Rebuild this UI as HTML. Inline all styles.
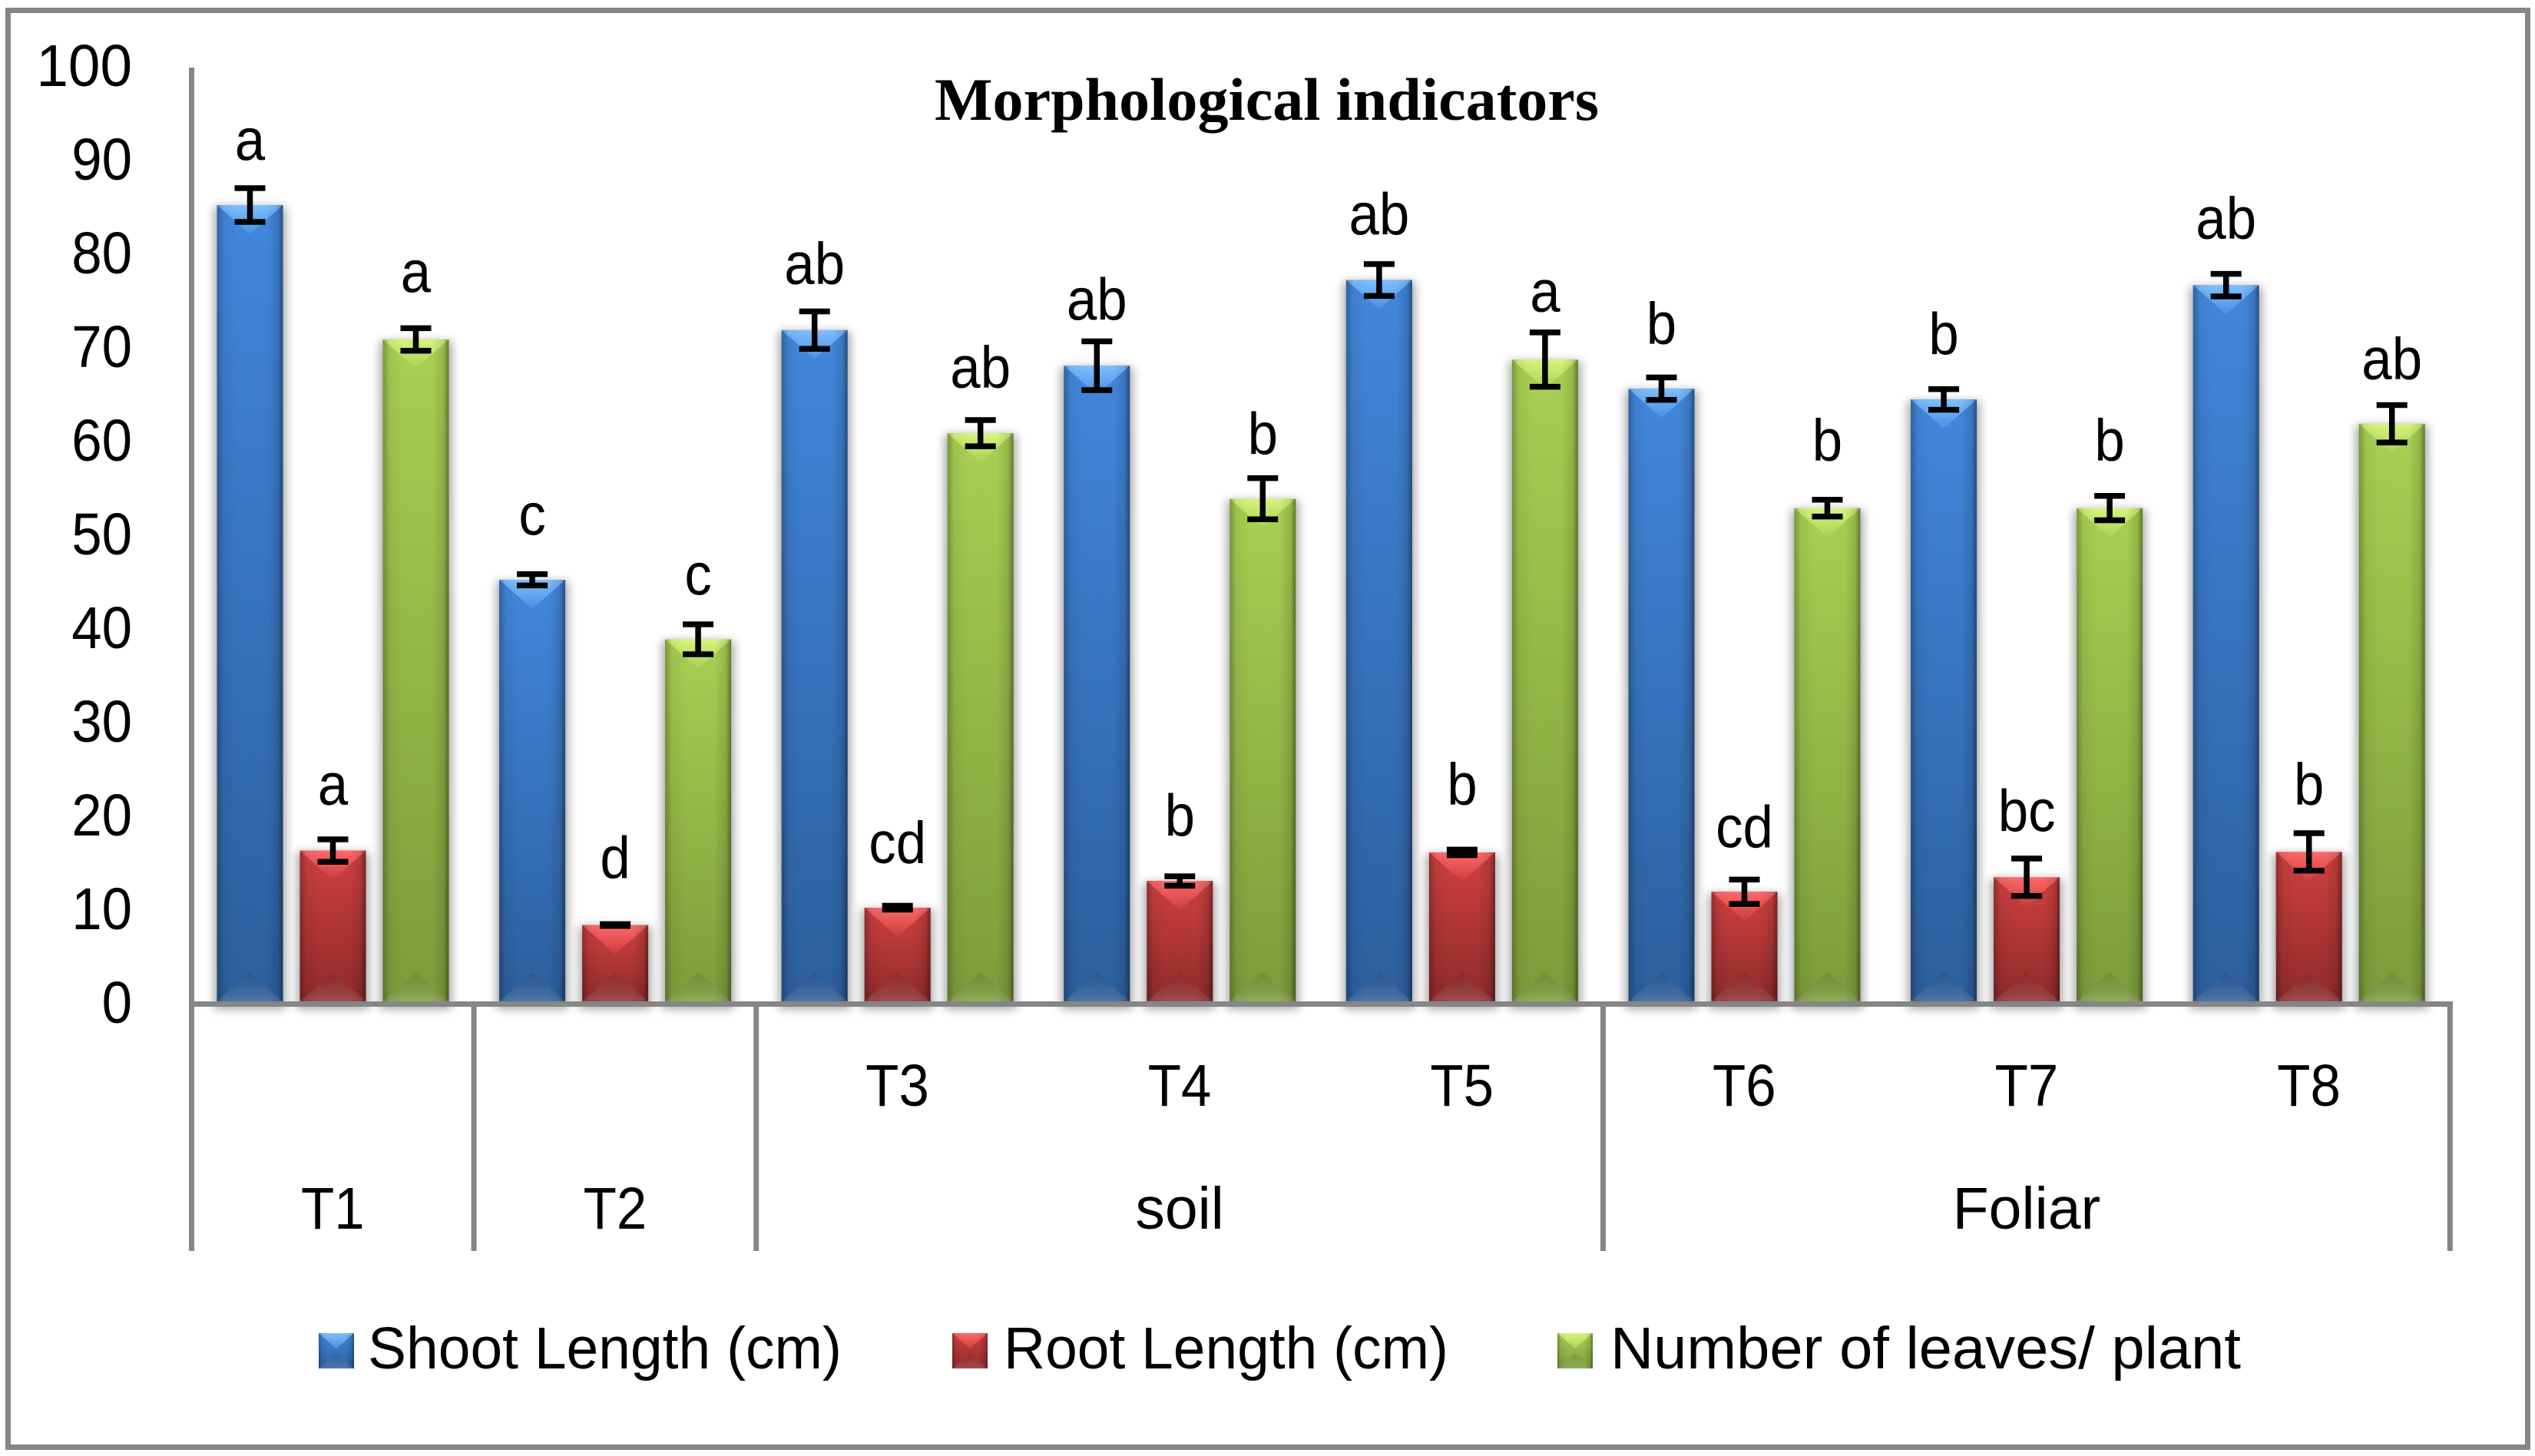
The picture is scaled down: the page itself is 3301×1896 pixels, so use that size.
<!DOCTYPE html>
<html lang="en">
<head>
<meta charset="utf-8">
<title>Morphological indicators</title>
<style>
html,body{margin:0;padding:0;background:#fff;width:3301px;height:1896px;overflow:hidden}
svg{display:block}
text{font-family:"Liberation Sans",sans-serif;fill:#000}
</style>
</head>
<body>
<svg id="chart" xmlns="http://www.w3.org/2000/svg" width="3301" height="1896" viewBox="0 0 3301 1896">
<defs>
  <filter id="soft" x="-40%" y="-20%" width="180%" height="140%"><feGaussianBlur stdDeviation="6"/></filter>
  <linearGradient id="sideShade" x1="0" x2="1" y1="0" y2="0">
    <stop offset="0" stop-color="#000" stop-opacity=".28"/><stop offset=".1" stop-color="#000" stop-opacity=".06"/>
    <stop offset=".3" stop-color="#000" stop-opacity="0"/><stop offset=".75" stop-color="#000" stop-opacity="0"/>
    <stop offset=".92" stop-color="#000" stop-opacity=".12"/><stop offset="1" stop-color="#000" stop-opacity=".42"/>
  </linearGradient>
  <linearGradient id="bottomBevel" x1="0" x2="0" y1="0" y2="1">
    <stop offset="0" stop-color="#000" stop-opacity=".1"/><stop offset="1" stop-color="#fff" stop-opacity=".16"/>
  </linearGradient>
  <linearGradient id="bodyBlue" x1="0" x2="0" y1="0" y2="1"><stop offset="0" stop-color="#4287dc"/><stop offset="1" stop-color="#2c5f9e"/></linearGradient>
  <linearGradient id="bodyRed" x1="0" x2="0" y1="0" y2="1"><stop offset="0" stop-color="#cf4040"/><stop offset="1" stop-color="#8f2b2b"/></linearGradient>
  <linearGradient id="bodyGreen" x1="0" x2="0" y1="0" y2="1"><stop offset="0" stop-color="#a8d052"/><stop offset="1" stop-color="#7c9c3a"/></linearGradient>
  <linearGradient id="topBlue" x1="0" x2="0" y1="0" y2="1"><stop offset="0" stop-color="#7fc0ff"/><stop offset="1" stop-color="#4a8fe2"/></linearGradient>
  <linearGradient id="topRed" x1="0" x2="0" y1="0" y2="1"><stop offset="0" stop-color="#ff6a6a"/><stop offset="1" stop-color="#cc3d3d"/></linearGradient>
  <linearGradient id="topGreen" x1="0" x2="0" y1="0" y2="1"><stop offset="0" stop-color="#d8f57e"/><stop offset="1" stop-color="#a9d054"/></linearGradient>
</defs>

<rect x="0" y="0" width="3301" height="1896" fill="#ffffff"/>
<rect x="10.5" y="13.5" width="3281" height="1871" fill="none" stroke="#868686" stroke-width="7"/>
<text x="1217" y="156" font-size="78" font-weight="700" textLength="865" lengthAdjust="spacingAndGlyphs" style='font-family:"Liberation Serif",serif'>Morphological indicators</text>

<g id="shadows"></g>
<g id="bars"></g>
<g id="axes"></g>
<g id="errors"></g>
<g id="letters"></g>
<g id="ticks"></g>
<g id="cats"></g>
<g id="legend"></g>
</svg>

<script>
// ---- chart data ----
const categories = ['T1','T2','T3','T4','T5','T6','T7','T8'];
const upperLabels = ['', '', 'T3','T4','T5','T6','T7','T8'];
const lowerLabels = ['T1','T2','soil','Foliar'];
const lowerSpans = [[0,1],[1,2],[2,5],[5,8]];
const seriesNames = ['Shoot Length (cm)','Root Length (cm)','Number of leaves/ plant'];
const yTicks = [0,10,20,30,40,50,60,70,80,90,100];

const shootValues = [85, 45, 71.65, 67.85, 77, 65.4, 64.25, 76.45];
const rootValues  = [16.1, 8.15, 10, 12.85, 15.9, 11.7, 13.25, 15.95];
const leafValues  = [70.65, 38.65, 60.65, 53.65, 68.5, 52.65, 52.65, 61.65];

const shootErrors = [1.8, 0.6, 2, 2.6, 1.7, 1.2, 1.1, 1.2];
const rootErrors  = [1.2, 0.1, 0.2, 0.5, 0.3, 1.3, 2, 2];
const leafErrors  = [1.2, 1.6, 1.4, 2.2, 2.9, 0.9, 1.3, 2];

const shootLetters = ['a','c','ab','ab','ab','b','b','ab'];
const rootLetters  = ['a','d','cd','b','b','cd','bc','b'];
const leafLetters  = ['a','c','ab','b','a','b','b','ab'];

// height (in axis units) at which each letter sits
const shootLetterLevels = [89.8, 49.8, 76.55, 72.75, 81.85, 70.15, 69.05, 81.4];
const rootLetterLevels  = [21, 13.15, 14.75, 17.65, 21, 16.45, 18.15, 21];
const leafLetterLevels  = [75.7, 43.4, 65.5, 58.4, 73.6, 57.7, 57.7, 66.4];

// ---- layout ----
const NS = 'http://www.w3.org/2000/svg';
const plotLeft = 249.5, groupWidth = 367.6, baseY = 1304, unit = 12.2;
const barW = 86, barPitch = 108, barInset = 33;
const yOf = v => baseY - v * unit;
const xOfGroup = g => plotLeft + groupWidth * g;
const xOfBar = (g, s) => xOfGroup(g) + barInset + s * barPitch;
const textScale = 0.92, wordScale = 1.0, textSize = 77;
const seriesKeys = ['Blue','Red','Green'];
const seriesValues = [shootValues, rootValues, leafValues];
const seriesErrors = [shootErrors, rootErrors, leafErrors];
const seriesLetters = [shootLetters, rootLetters, leafLetters];
const seriesLevels = [shootLetterLevels, rootLetterLevels, leafLetterLevels];
const legendLayout = [
  {mx:415, tx:479, tw:617},
  {mx:1240, tx:1307, tw:579},
  {mx:2028, tx:2097, tw:821}
];

function mk(tag, parent, attrs) {
  const el = document.createElementNS(NS, tag);
  for (const k in attrs) el.setAttribute(k, attrs[k]);
  parent.appendChild(el);
  return el;
}
function label(parent, str, x, y, anchor, sx) {
  const t = mk('text', parent, {
    transform: `translate(${x} ${y}) scale(${sx || textScale} 1)`,
    'font-size': textSize,
    'text-anchor': anchor
  });
  t.textContent = str;
  return t;
}
const gShadow = document.getElementById('shadows');
const gBars = document.getElementById('bars');
const gAxes = document.getElementById('axes');
const gErr = document.getElementById('errors');
const gLet = document.getElementById('letters');
const gTicks = document.getElementById('ticks');
const gCats = document.getElementById('cats');
const gLegend = document.getElementById('legend');

function drawBevel(parent, x, top, w, h, key) {
  const bodyEl = mk('rect', parent, {x:x, y:top, width:w, height:h, fill:`url(#body${key})`});
  
  
  const d = Math.min(w / 2 * 0.88, h * 0.5);
  const bot = top + h;
  const bevelBottom = mk('polygon', parent, {points:`${x},${bot} ${x+w},${bot} ${x+w/2},${bot-d}`, fill:'url(#bottomBevel)'});
  
  
  const bevelTop = mk('polygon', parent, {points:`${x},${top} ${x+w},${top} ${x+w/2},${top+d}`, fill:`url(#top${key})`});
  
  
  const shade = mk('rect', parent, {x:x, y:top, width:w, height:h, fill:'url(#sideShade)'});
  
  
}

// bars, errors, letters
seriesValues.forEach((vals, s) => {
  vals.forEach((v, g) => {
    const x = xOfBar(g, s), top = yOf(v), h = baseY - top, cx = x + barW / 2;

    const sh = mk('rect', gShadow, {x:x-4, y:top+2, width:barW+8, height:h+8, fill:'#000', opacity:.34, filter:'url(#soft)'});
    
    

    const bar = mk('g', gBars, {});
    
    
    drawBevel(bar, x, top, barW, h, seriesKeys[s]);

    const e = seriesErrors[s][g], y1 = yOf(v + e), y2 = yOf(v - e);
    const err = mk('path', gErr, {d:`M${cx-20} ${y1}H${cx+20}M${cx} ${y1}V${y2}M${cx-20} ${y2}H${cx+20}`, stroke:'#000', 'stroke-width':7.5, fill:'none'});
    
    

    const t = label(gLet, seriesLetters[s][g], cx, yOf(seriesLevels[s][g]), 'middle');
    
    
  });
});

// axes
const axisColor = '#868686';
const yAxis = mk('rect', gAxes, {x:246, y:88, width:7, height:1223, fill:axisColor});


const xAxis = mk('rect', gAxes, {x:246, y:1304, width:2948, height:7, fill:axisColor});


[0, 1, 2, 5, 8].forEach(b => {
  const sep = mk('rect', gAxes, {x:xOfGroup(b) - 3.5, y:1311, width:7, height:318, fill:axisColor});
  
  
});

// y tick labels
yTicks.forEach(v => {
  const t = label(gTicks, String(v), 172, yOf(v) + 28, 'end', v === 100 ? 0.97 : textScale);
  
  
});

// category labels
upperLabels.forEach((c, g) => {
  if (!c) return;
  const t = label(gCats, c, xOfGroup(g) + groupWidth / 2, 1440, 'middle');
  
  
});
lowerLabels.forEach((c, i) => {
  const mid = (lowerSpans[i][0] + lowerSpans[i][1]) / 2;
  const t = label(gCats, c, xOfGroup(mid), 1600, 'middle', i >= 2 ? wordScale : textScale);
  
  
});

// legend
seriesNames.forEach((name, s) => {
  const L = legendLayout[s];
  const entry = mk('g', gLegend, {});
  
  
  drawBevel(entry, L.mx, 1736, 46, 46, seriesKeys[s]);
  const t = mk('text', entry, {x:L.tx, y:1782, 'font-size':textSize, textLength:L.tw, lengthAdjust:'spacingAndGlyphs'});
  
  
  t.textContent = name;
});
</script>
</body>
</html>
